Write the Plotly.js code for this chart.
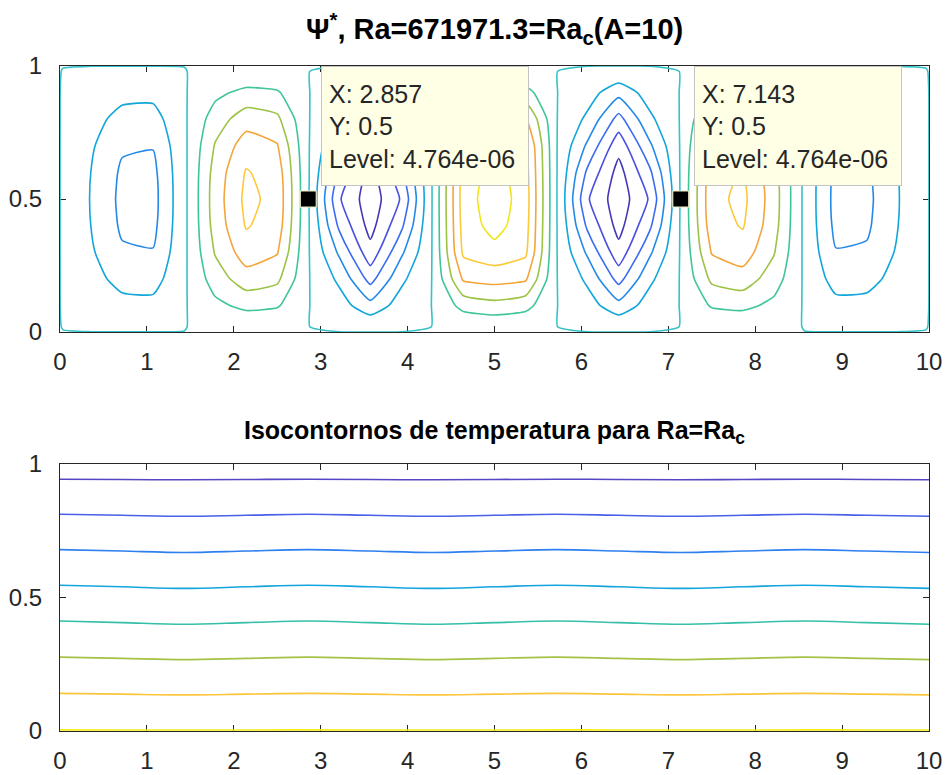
<!DOCTYPE html>
<html>
<head>
<meta charset="utf-8">
<script src="https://cdn.plot.ly/plotly-3.0.1.min.js"></script>
<style>html,body{margin:0;padding:0;background:#fff;}#chart{width:946px;height:775px;}</style>
</head>
<body>
<div id="chart"></div>
<script>
// ---------- Stream function grid (values in units of 1e-5) ----------
const psiX = [0, 0.036, 0.357, 0.714, 1.071, 1.429, 1.786, 2.143, 2.5, 2.857, 3.214, 3.571, 3.929, 4.286, 4.643, 5,
              5.357, 5.714, 6.071, 6.429, 6.786, 7.143, 7.5, 7.857, 8.214, 8.571, 8.929, 9.286, 9.643, 9.964, 10];
const psiY = [0, 0.02, 0.1, 0.2, 0.3, 0.4, 0.5, 0.6, 0.7, 0.8, 0.9, 0.98, 1];
const psiWall  = [0.002,0.002,0.002,0.002,0.002,0.002,0.002,0.002,0.002,0.002,0.002,0.002,0.002,0.002,0.002,0.002,0.002,0.002,0.002,0.002,0.002,0.002,0.002,0.002,0.002,0.002,0.002,0.002,0.002,0.002,0.002];
const psiNear  = [0.002,-0.003,-0.032,-0.068,-0.071,-0.008,0.075,0.128,0.111,0.003,-0.055,-0.168,-0.055,0.002,0.135,0.168,0.135,0.002,-0.055,-0.168,-0.055,0.003,0.111,0.128,0.075,-0.008,-0.071,-0.068,-0.032,-0.003,0.002];
const psiRow1  = [0.002,-0.032,-0.32,-0.68,-0.71,-0.08,0.75,1.28,1.11,0.03,-0.55,-1.68,-0.55,0.02,1.35,1.68,1.35,0.02,-0.55,-1.68,-0.55,0.03,1.11,1.28,0.75,-0.08,-0.71,-0.68,-0.32,-0.032,0.002];
const psiRow2  = [0.002,-0.063,-0.63,-1.35,-1.41,-0.15,1.5,2.55,2.22,0.06,-1.21,-3.36,-1.21,0.03,3.15,3.36,3.15,0.03,-1.21,-3.36,-1.21,0.06,2.22,2.55,1.5,-0.15,-1.41,-1.35,-0.63,-0.063,0.002];
const psiRow3  = [0.002,-0.087,-0.87,-1.87,-1.95,-0.21,2.08,3.53,3.07,0.08,-2.18,-4.65,-2.18,0.04,4.19,4.65,4.19,0.04,-2.18,-4.65,-2.18,0.08,3.07,3.53,2.08,-0.21,-1.95,-1.87,-0.87,-0.087,0.002];
const psiRow4  = [0.002,-0.101,-1.01,-2.16,-2.26,-0.24,2.4,4.08,3.55,0.1,-3.2,-5.38,-3.2,0.05,4.41,5.38,4.41,0.05,-3.2,-5.38,-3.2,0.1,3.55,4.08,2.4,-0.24,-2.26,-2.16,-1.01,-0.101,0.002];
const psiRow5  = [0.002,-0.105,-1.05,-2.25,-2.35,-0.25,2.5,4.25,3.7,0.1,-3.9,-5.6,-3.9,0.05,4.5,5.6,4.5,0.05,-3.9,-5.6,-3.9,0.1,3.7,4.25,2.5,-0.25,-2.35,-2.25,-1.05,-0.105,0.002];
const psiRow6  = [0.002,-0.101,-1.01,-2.16,-2.26,-0.24,2.4,4.08,3.55,0.1,-3.2,-5.38,-3.2,0.05,4.41,5.38,4.41,0.05,-3.2,-5.38,-3.2,0.1,3.55,4.08,2.4,-0.24,-2.26,-2.16,-1.01,-0.101,0.002];
const psiRow7  = [0.002,-0.087,-0.87,-1.87,-1.95,-0.21,2.08,3.53,3.07,0.08,-2.18,-4.65,-2.18,0.04,4.19,4.65,4.19,0.04,-2.18,-4.65,-2.18,0.08,3.07,3.53,2.08,-0.21,-1.95,-1.87,-0.87,-0.087,0.002];
const psiRow8  = [0.002,-0.063,-0.63,-1.35,-1.41,-0.15,1.5,2.55,2.22,0.06,-1.21,-3.36,-1.21,0.03,3.15,3.36,3.15,0.03,-1.21,-3.36,-1.21,0.06,2.22,2.55,1.5,-0.15,-1.41,-1.35,-0.63,-0.063,0.002];
const psiRow9  = [0.002,-0.032,-0.32,-0.68,-0.71,-0.08,0.75,1.28,1.11,0.03,-0.55,-1.68,-0.55,0.02,1.35,1.68,1.35,0.02,-0.55,-1.68,-0.55,0.03,1.11,1.28,0.75,-0.08,-0.71,-0.68,-0.32,-0.032,0.002];
const psiLevelStart = -5, psiLevelEnd = 5, psiLevelStep = 1;

// ---------- Temperature grid ----------
const tempX = [0, 0.714, 1.429, 2.143, 2.857, 3.571, 4.286, 5, 5.714, 6.429, 7.143, 7.857, 8.571, 9.286, 10];
const tempY = [0, 0.1, 0.2, 0.3, 0.4, 0.5, 0.6, 0.7, 0.8, 0.9, 1];
const tempRow0 = [1,1,1,1,1,1,1,1,1,1,1,1,1,1,1];
const tempRow1 = [0.902,0.9,0.898,0.9,0.902,0.9,0.898,0.9,0.902,0.9,0.898,0.9,0.902,0.9,0.898];
const tempRow2 = [0.804,0.8,0.796,0.8,0.804,0.8,0.796,0.8,0.804,0.8,0.796,0.8,0.804,0.8,0.796];
const tempRow3 = [0.705,0.7,0.695,0.7,0.705,0.7,0.695,0.7,0.705,0.7,0.695,0.7,0.705,0.7,0.695];
const tempRow4 = [0.606,0.6,0.594,0.6,0.606,0.6,0.594,0.6,0.606,0.6,0.594,0.6,0.606,0.6,0.594];
const tempRow5 = [0.506,0.5,0.494,0.5,0.506,0.5,0.494,0.5,0.506,0.5,0.494,0.5,0.506,0.5,0.494];
const tempRow6 = [0.406,0.4,0.394,0.4,0.406,0.4,0.394,0.4,0.406,0.4,0.394,0.4,0.406,0.4,0.394];
const tempRow7 = [0.305,0.3,0.295,0.3,0.305,0.3,0.295,0.3,0.305,0.3,0.295,0.3,0.305,0.3,0.295];
const tempRow8 = [0.204,0.2,0.196,0.2,0.204,0.2,0.196,0.2,0.204,0.2,0.196,0.2,0.204,0.2,0.196];
const tempRow9 = [0.102,0.1,0.098,0.1,0.102,0.1,0.098,0.1,0.102,0.1,0.098,0.1,0.102,0.1,0.098];
const tempRow10 = [0,0,0,0,0,0,0,0,0,0,0,0,0,0,0];
const tempLevelStart = 0.058, tempLevelEnd = 1.0, tempLevelStep = 0.134;

// ---------- Data tips ----------
const tipX = [2.857, 7.143];
const tipY = [0.5, 0.5];
const tipLevel = ['4.764e-06', '4.764e-06'];

// ---------- Ticks and texts ----------
const xTicks = [0,1,2,3,4,5,6,7,8,9,10];
const yTicks = [0, 0.5, 1];
const yTickText = ['0', '0.5', '1'];
const title1 = '<b>Ψ<sup>*</sup>, Ra=671971.3=Ra<sub>c</sub>(A=10)</b>';
const title2 = '<b>Isocontornos de temperatura para Ra=Ra<sub>c</sub></b>';

// ---------- Styles ----------
const psiLevelColors = ['#4538b5','#4a50e0','#3a6cf2','#2389e8','#12a6da','#36c2c8','#3fc59a','#9cc246','#f3a63c','#fbc93a','#f0e61e'];
const tempLevelColors = ['#5547c3','#4a5fe8','#2e7ff0','#14a5dc','#35bfa8','#a4c244','#fbc53c','#f5ee1c'];
const toScale = cols => cols.map((c, i) => [i / (cols.length - 1), c]);

const psiZ = [psiWall, psiNear, psiRow1, psiRow2, psiRow3, psiRow4, psiRow5, psiRow6, psiRow7, psiRow8, psiRow9, psiNear, psiWall];
const tempZ = [tempRow0, tempRow1, tempRow2, tempRow3, tempRow4, tempRow5, tempRow6, tempRow7, tempRow8, tempRow9, tempRow10];

const FONT = 'Liberation Sans, Arial, Helvetica, sans-serif';
const INK = '#262626';

const traces = [
  {
    type: 'contour', x: psiX, y: psiY, z: psiZ, xaxis: 'x', yaxis: 'y',
    autocontour: false,
    contours: {start: psiLevelStart, end: psiLevelEnd, size: psiLevelStep, coloring: 'lines'},
    colorscale: toScale(psiLevelColors), showscale: false,
    line: {width: 1.6, smoothing: 0.5}, hoverinfo: 'skip'
  },
  {
    type: 'scatter', mode: 'markers', x: tipX, y: tipY, xaxis: 'x', yaxis: 'y',
    marker: {symbol: 'square', size: 16, color: '#000', line: {color: '#ece9c0', width: 1.2}},
    hoverinfo: 'skip', cliponaxis: false
  },
  {
    type: 'contour', x: tempX, y: tempY, z: tempZ, xaxis: 'x2', yaxis: 'y2',
    autocontour: false,
    contours: {start: tempLevelStart, end: tempLevelEnd, size: tempLevelStep, coloring: 'lines'},
    colorscale: toScale(tempLevelColors), showscale: false,
    line: {width: 1.6, smoothing: 1}, hoverinfo: 'skip'
  }
];

const axisCommon = {
  showline: true, linecolor: INK, linewidth: 1, mirror: 'ticks',
  ticks: 'inside', ticklen: 6, tickwidth: 1, tickcolor: INK,
  showgrid: false, zeroline: false, layer: 'below traces',
  tickfont: {family: FONT, size: 24, color: INK}
};

const layout = {
  width: 946, height: 775,
  paper_bgcolor: '#ffffff', plot_bgcolor: '#ffffff',
  margin: {l: 60, r: 17, t: 66, b: 44},
  showlegend: false,
  font: {family: FONT, color: INK, size: 24},
  xaxis: Object.assign({}, axisCommon, {domain: [0, 1], anchor: 'y', range: [0, 10], tickvals: xTicks, ticklabelstandoff: 8}),
  yaxis: Object.assign({}, axisCommon, {domain: [0.6, 1], anchor: 'x', range: [0, 1], tickvals: yTicks, ticktext: yTickText, ticklabelstandoff: 12}),
  xaxis2: Object.assign({}, axisCommon, {domain: [0, 1], anchor: 'y2', range: [0, 10], tickvals: xTicks, ticklabelstandoff: 8}),
  yaxis2: Object.assign({}, axisCommon, {domain: [0, 0.4015], anchor: 'x2', range: [0, 1], tickvals: yTicks, ticktext: yTickText, ticklabelstandoff: 12}),
  annotations: [
    {text: title1, xref: 'paper', yref: 'paper', x: 0.5, y: 1, xanchor: 'center', yanchor: 'bottom', yshift: 15,
     showarrow: false, font: {family: FONT, size: 29, color: '#000'}},
    {text: title2, xref: 'paper', yref: 'paper', x: 0.5, y: 0.4015, xanchor: 'center', yanchor: 'bottom', yshift: 14,
     showarrow: false, font: {family: FONT, size: 25, color: '#000'}}
  ].concat(tipX.map((tx, i) => ({
    text: 'X: ' + tx + '<br>Y: ' + tipY[i] + '<br>Level: ' + tipLevel[i],
    xref: 'x', yref: 'y', x: tx, y: 1, xanchor: 'left', yanchor: 'top', xshift: 13,
    showarrow: false, align: 'left', valign: 'middle', width: 192, height: 104,
    bgcolor: '#ffffe6', bordercolor: '#c4c4c4', borderwidth: 1, borderpad: 7,
    font: {family: FONT, size: 25, color: '#262626'}
  })))
};

Plotly.newPlot('chart', traces, layout, {staticPlot: true, displayModeBar: false});
</script>
</body>
</html>
